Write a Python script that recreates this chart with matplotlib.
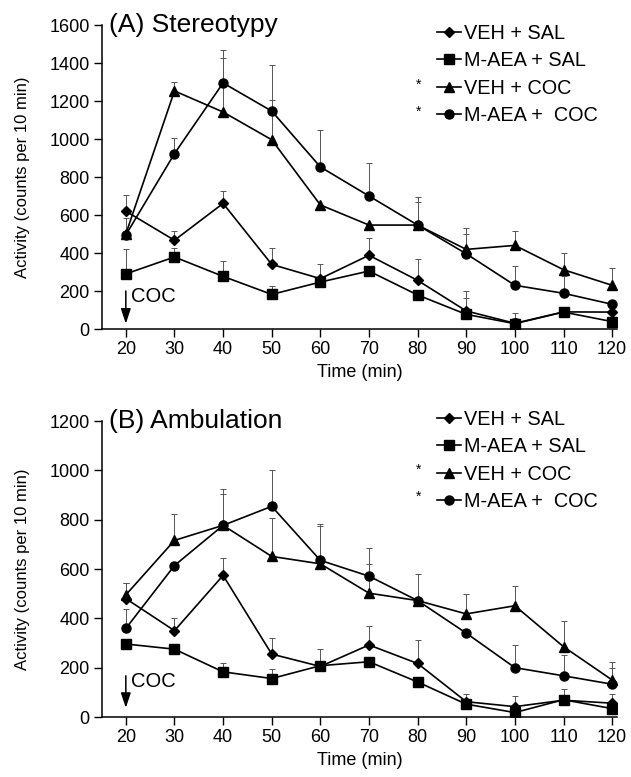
import matplotlib
matplotlib.use("Agg")
import matplotlib.pyplot as plt
from matplotlib.lines import Line2D

plt.rcParams['font.family'] = ['Liberation Sans', 'DejaVu Sans']

time = [20, 30, 40, 50, 60, 70, 80, 90, 100, 110, 120]
series_labels = ["VEH + SAL", "M-AEA + SAL", "VEH + COC", "M-AEA +  COC"]
markers = ["D", "s", "^", "o"]

# Panel A: Stereotypy
a_veh_sal = [620, 467, 661, 340, 265, 388, 256, 95, 30, 90, 89]
a_maea_sal = [290, 379, 277, 182, 247, 305, 179, 77, 28, 89, 39]
a_veh_coc = [500, 1253, 1142, 996, 653, 547, 547, 419, 440, 312, 230]
a_maea_coc = [495, 923, 1295, 1147, 853, 700, 547, 396, 230, 188, 130]
a_err_veh_sal = [85, 50, 65, 88, 75, 90, 110, 105, 55, 20, 0]
a_err_maea_sal = [130, 48, 80, 43, 20, 0, 0, 85, 30, 15, 0]
a_err_veh_coc = [0, 47, 283, 207, 0, 0, 120, 115, 75, 90, 93]
a_err_maea_coc = [90, 84, 172, 240, 196, 172, 148, 102, 102, 90, 0]

# Panel B: Ambulation
b_veh_sal = [480, 350, 574, 255, 205, 292, 217, 62, 42, 68, 56]
b_maea_sal = [296, 275, 183, 156, 208, 224, 142, 52, 18, 70, 34]
b_veh_coc = [495, 716, 777, 651, 621, 502, 472, 418, 451, 285, 150]
b_maea_coc = [359, 614, 777, 854, 635, 571, 472, 340, 200, 167, 133]
b_err_veh_sal = [64, 52, 70, 64, 70, 78, 95, 30, 43, 45, 39]
b_err_maea_sal = [0, 0, 35, 38, 0, 0, 0, 20, 0, 10, 0]
b_err_veh_coc = [49, 109, 126, 157, 153, 119, 108, 81, 82, 106, 71]
b_err_maea_coc = [77, 0, 148, 147, 149, 114, 0, 0, 93, 85, 67]

W, H = 631, 777
fig = plt.figure(figsize=(W / 100, H / 100), dpi=100)
axA = fig.add_axes([102 / W, 1 - 329 / H, 515 / W, 304 / H])
axB = fig.add_axes([102 / W, 1 - 717 / H, 515 / W, 296 / H])


def draw(ax, data, errs, ymax, ystep, title, coc_top, coc_bottom, leg_top_px, ast_px):
    for vals, err, m in zip(data, errs, markers):
        ax.errorbar(time, vals, yerr=[[0] * len(err), err], fmt='none',
                    ecolor='#555555', elinewidth=0.7, capsize=2.2, capthick=0.7, zorder=1)
        ms = 5 if m == 'D' else 6.5
        ax.plot(time, vals, color='black', lw=1.2, marker=m, ms=ms,
                markerfacecolor='black', markeredgecolor='black', zorder=3)
    ax.set_xlim(15.1, 121)
    ax.set_ylim(0, ymax)
    ax.set_xticks(time)
    ax.set_yticks(range(0, ymax + 1, ystep))
    ax.spines['top'].set_visible(False)
    ax.spines['right'].set_visible(False)
    ax.spines['left'].set_linewidth(1.1)
    ax.spines['bottom'].set_linewidth(1.1)
    ax.tick_params(direction='out', length=6, width=1, labelsize=13, pad=3)
    ax.set_xlabel("Time (min)", fontsize=13, labelpad=4)
    ax.set_ylabel("Activity (counts per 10 min)", fontsize=12)
    ax.yaxis.set_label_coords((30 - 102) / 515, 0.5)
    ax.text(7 / 515, 1.0, title, transform=ax.transAxes, fontsize=19,
            va='center', ha='left')
    ax.annotate("", xy=(20, coc_bottom), xytext=(20, coc_top),
                arrowprops=dict(arrowstyle='-|>,head_width=0.3,head_length=0.9',
                                color='black', lw=1.1, shrinkA=0, shrinkB=0))
    ax.text(21.1, coc_top - (coc_top - coc_bottom) * 0.18, "COC",
            fontsize=14.5, va='center', ha='left')
    handles = [Line2D([0], [0], color='black', lw=1.2, marker=m,
                      ms=(5 if m == 'D' else 6.5)) for m in markers]
    ax.legend(handles, series_labels, loc='upper left',
              bbox_to_anchor=(437 / W, 1 - leg_top_px / H),
              bbox_transform=fig.transFigure, frameon=False, fontsize=14.3,
              handlelength=1.2, handletextpad=0.15, labelspacing=0.42,
              borderaxespad=0.0, borderpad=0.0)
    for yp in ast_px:
        fig.text(419 / W, 1 - yp / H, "*", fontsize=10, ha='center', va='center')


draw(axA, [a_veh_sal, a_maea_sal, a_veh_coc, a_maea_coc],
     [a_err_veh_sal, a_err_maea_sal, a_err_veh_coc, a_err_maea_coc],
     1600, 200, "(A) Stereotypy", 200, 28, 24, (85, 112))
draw(axB, [b_veh_sal, b_maea_sal, b_veh_coc, b_maea_coc],
     [b_err_veh_sal, b_err_maea_sal, b_err_veh_coc, b_err_maea_coc],
     1200, 200, "(B) Ambulation", 167, 37, 410, (470, 497))

fig.savefig("out.png", dpi=100)
